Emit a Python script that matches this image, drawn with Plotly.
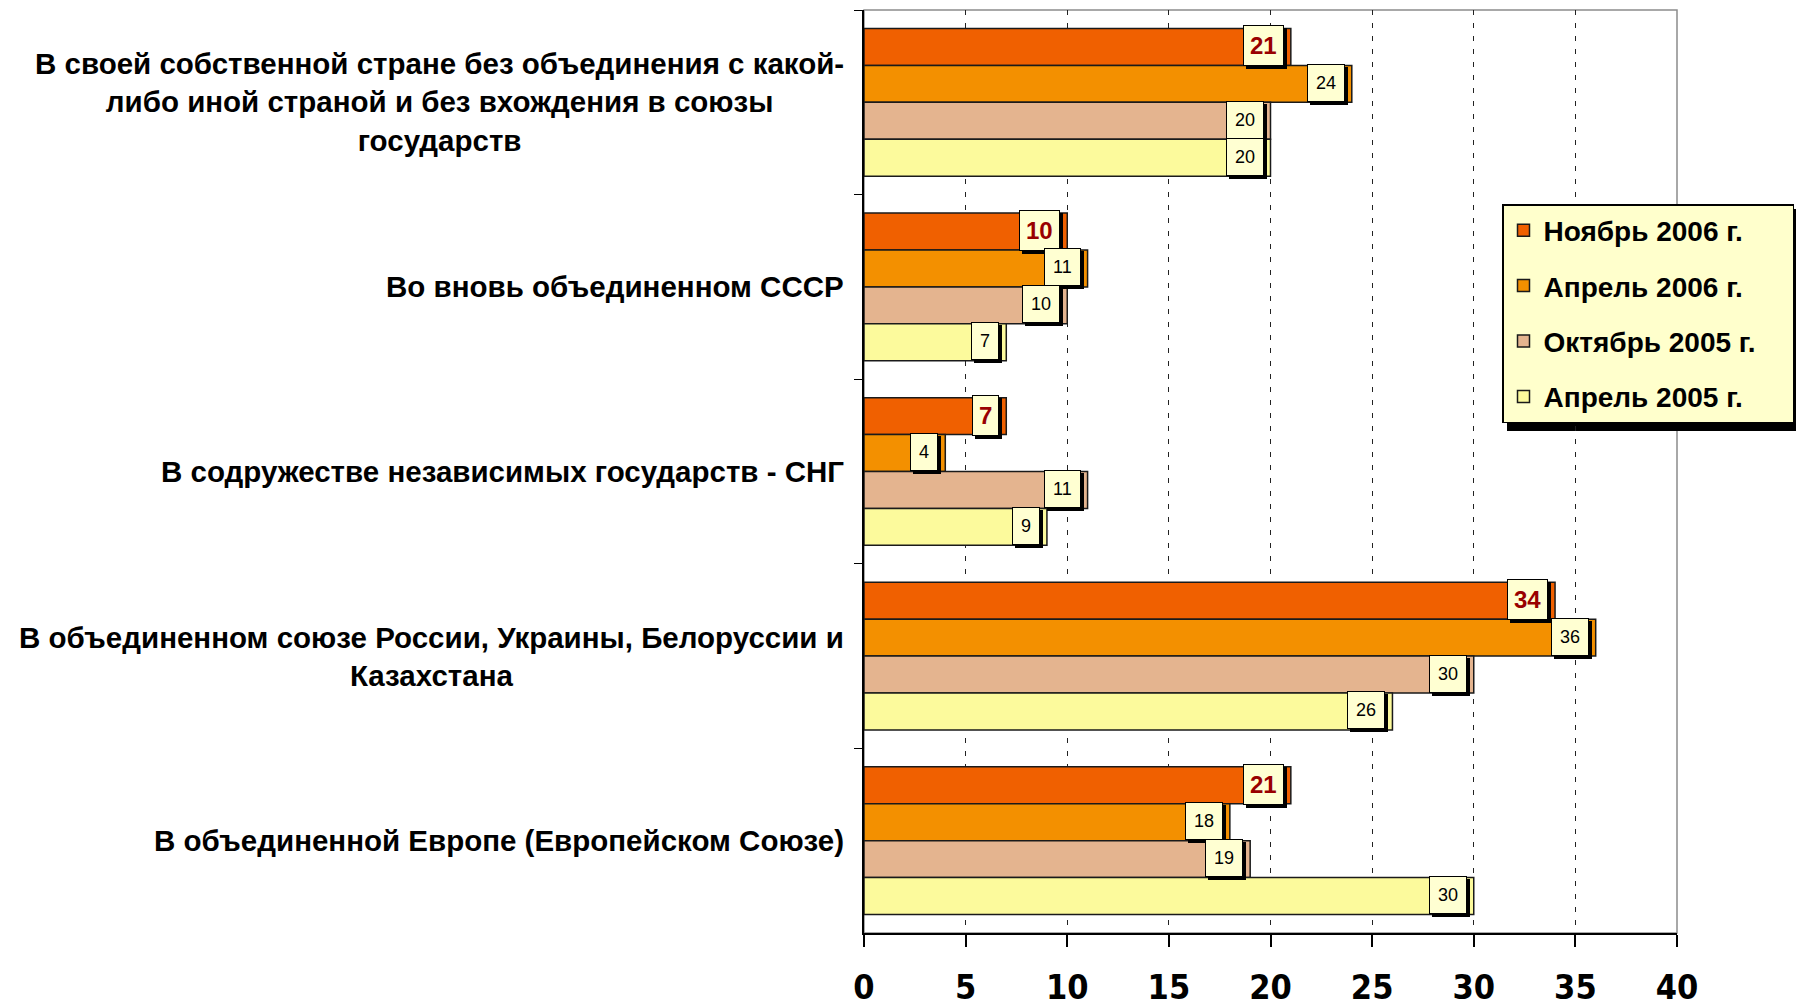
import plotly.graph_objects as go

# Категории (сверху вниз) и серии опроса
categories = [
    "В своей собственной стране без объединения с какой-<br>либо иной страной и без вхождения в союзы<br>государств",
    "Во вновь объединенном СССР",
    "В содружестве независимых государств - СНГ",
    "В объединенном союзе России, Украины, Белоруссии и<br>Казахстана",
    "В объединенной Европе (Европейском Союзе)",
]
series_names = ["Ноябрь 2006 г.", "Апрель 2006 г.", "Октябрь 2005 г.", "Апрель 2005 г."]
nov_2006 = [21, 10, 7, 34, 21]
apr_2006 = [24, 11, 4, 36, 18]
oct_2005 = [20, 10, 11, 30, 19]
apr_2005 = [20, 7, 9, 26, 30]
series_values = [nov_2006, apr_2006, oct_2005, apr_2005]
x_ticks = [0, 5, 10, 15, 20, 25, 30, 35, 40]

colors = ["#F06000", "#F39000", "#E4B48F", "#FCFA9C"]

# страница имеет отступ body 8px, поэтому фигура чуть меньше и сдвинута
OFF = 8
W, H = 1804 - OFF, 1000 - OFF
ml, mr, mt, mb = 856, 127, 2, 67
plot_w = W - ml - mr
plot_h = H - mt - mb
bargap = 0.2
n_ser = len(series_names)
band_px = plot_h / len(categories)
bar_px = band_px * (1 - bargap) / n_ser

fig = go.Figure()
for name, vals, col in zip(series_names, series_values, colors):
    fig.add_trace(go.Bar(
        y=categories, x=vals, name=name + "\u00a0" * 4, orientation="h",
        marker=dict(color=col, line=dict(color="#1a1a1a", width=1.5)),
        legendgroup=name,
    ))

annotations = []
# подписи категорий слева, строки выровнены по центру
for c in categories:
    annotations.append(dict(
        x=0, xref="paper", y=c, yref="y", xanchor="right", yanchor="middle",
        xshift=-18, text=c, showarrow=False, align="center",
        font=dict(family="Liberation Sans, Arial", size=29.5, color="#000000", weight="bold"),
    ))

# подписи значений в рамках
for i, vals in enumerate(series_values):
    ys = -(i - (n_ser - 1) / 2) * bar_px
    if i == 0:
        fnt = dict(family="Liberation Sans, Arial", size=24, color="#990000", weight="bold")
        pad = 6
    else:
        fnt = dict(family="Liberation Sans, Arial", size=18, color="#000000")
        pad = 8
    for c, v in zip(categories, vals):
        # тень
        annotations.append(dict(
            x=v, xref="x", y=c, yref="y", xanchor="right", yanchor="middle",
            xshift=-4, yshift=ys + 1 - 3, text=str(v), showarrow=False,
            font=dict(fnt, color="#000000"), bgcolor="#000000", bordercolor="#000000",
            borderwidth=1, borderpad=pad,
        ))
        annotations.append(dict(
            x=v, xref="x", y=c, yref="y", xanchor="right", yanchor="middle",
            xshift=-7, yshift=ys + 1, text=str(v), showarrow=False,
            font=fnt, bgcolor="#FFFFD2", bordercolor="#000000",
            borderwidth=1, borderpad=pad,
        ))

# рамка легенды в пикселях фигуры
leg_x0, leg_y0, leg_x1, leg_y1 = 1494, 196, 1792, 418
shadow = dict(
    type="rect", xref="paper", yref="paper",
    x0=(leg_x0 + 5 - ml) / plot_w, x1=(leg_x1 + 5 - ml) / plot_w,
    y0=(H - mb - (leg_y1 + 5)) / plot_h, y1=(H - mb - (leg_y0 + 5)) / plot_h,
    fillcolor="#000000", line=dict(width=0), layer="below",
)

fig.update_layout(
    width=W, height=H,
    margin=dict(l=ml, r=mr, t=mt, b=mb, autoexpand=False),
    paper_bgcolor="#FFFFFF", plot_bgcolor="#FFFFFF",
    barmode="group", bargap=bargap, bargroupgap=0,
    annotations=annotations,
    showlegend=True,
    legend=dict(
        x=(leg_x0 - ml) / plot_w, y=(H - mb - leg_y0) / plot_h, xanchor="left", yanchor="top",
        bgcolor="#FFFFCC", bordercolor="#000000", borderwidth=1.5,
        font=dict(family="Liberation Sans, Arial", size=28, color="#000000", weight="bold"),
        tracegroupgap=16, traceorder="grouped",
    ),
    shapes=[
        dict(type="rect", xref="paper", yref="paper", x0=0, x1=1, y0=0, y1=1,
             line=dict(color="#8c8c8c", width=1.5), layer="below"),
        shadow,
    ],
    xaxis=dict(
        range=[0, 40], tickvals=x_ticks, ticktext=[str(t) for t in x_ticks],
        showgrid=True, gridcolor="#222222", griddash="5px,8px", gridwidth=1,
        showline=True, linecolor="#000000", linewidth=1.5,
        ticks="outside", ticklen=12, tickcolor="#000000", tickwidth=1.5,
        ticklabelstandoff=11, zeroline=False, automargin=False,
        tickfont=dict(family="Liberation Sans Narrow, DejaVu Sans Condensed, Arial Narrow", size=34,
                      color="#000000", weight="bold"),
    ),
    yaxis=dict(
        categoryorder="array", categoryarray=categories, autorange="reversed",
        showticklabels=False, showline=True, linecolor="#000000", linewidth=1.5,
        ticks="outside", tickson="boundaries", ticklen=8, tickcolor="#000000",
        showgrid=False, zeroline=False, automargin=False,
    ),
)

fig.write_html("out.html")
